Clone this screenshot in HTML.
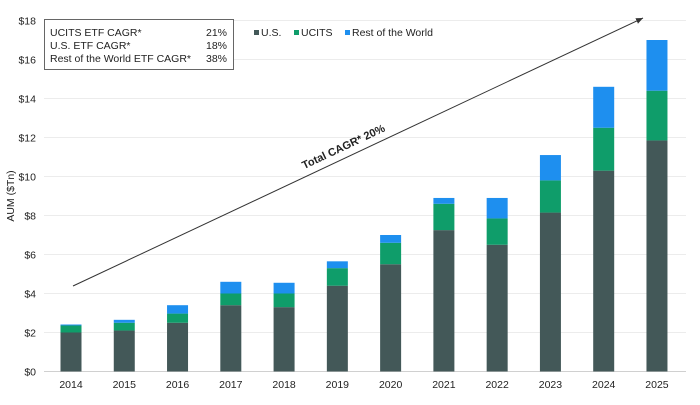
<!DOCTYPE html>
<html><head><meta charset="utf-8"><style>
body{margin:0;background:#fff;}
svg text{font-family:"Liberation Sans",Arial,sans-serif;}
</style></head><body>
<svg id="chart" width="700" height="400">
<defs><marker id="ah" markerWidth="8" markerHeight="8" refX="7" refY="4" orient="auto"><path d="M0,1 L7,4 L0,7 z" fill="#333"/></marker></defs>
<g id="grid"></g><g id="bars"></g><g id="axes"></g>
<line x1="73" y1="286" x2="643" y2="18" stroke="#333" stroke-width="1" marker-end="url(#ah)"/>
<text x="345" y="150" font-size="11" font-weight="bold" fill="#222" text-anchor="middle" transform="rotate(-25.2 345 150)">Total CAGR* 20%</text>
<g>
<rect x="44.5" y="19.5" width="189" height="50" fill="#fff" stroke="#666"/>
<text x="50" y="36" font-size="10.5" fill="#222">UCITS ETF CAGR*</text><text x="227" y="36" font-size="10.5" fill="#222" text-anchor="end">21%</text>
<text x="50" y="49" font-size="10.5" fill="#222">U.S. ETF CAGR*</text><text x="227" y="49" font-size="10.5" fill="#222" text-anchor="end">18%</text>
<text x="50" y="62" font-size="10.5" fill="#222">Rest of the World ETF CAGR*</text><text x="227" y="62" font-size="10.5" fill="#222" text-anchor="end">38%</text>
</g>
<g>
<rect x="254" y="30" width="5" height="5" fill="#435858"/><text x="261" y="36" font-size="10.5" fill="#222">U.S.</text>
<rect x="294" y="30" width="5" height="5" fill="#0f9d6a"/><text x="301" y="36" font-size="10.5" fill="#222">UCITS</text>
<rect x="345" y="30" width="5" height="5" fill="#1e8fef"/><text x="352" y="36" font-size="10.5" fill="#222">Rest of the World</text>
</g>
<text x="14" y="196" font-size="10.5" fill="#222" text-anchor="middle" transform="rotate(-90 14 196)">AUM ($Tn)</text>
</svg>
<script>
const years=['2014','2015','2016','2017','2018','2019','2020','2021','2022','2023','2024','2025'];
const us=[2.0,2.1,2.5,3.4,3.3,4.4,5.5,7.25,6.5,8.15,10.3,11.85];
const ucits=[0.36,0.4,0.47,0.6,0.7,0.9,1.1,1.35,1.35,1.65,2.2,2.55];
const row=[0.05,0.15,0.43,0.6,0.55,0.35,0.4,0.3,1.05,1.3,2.1,2.6];
const yTicks=[0,2,4,6,8,10,12,14,16,18];
const colors=['#435858','#0f9d6a','#1e8fef'];
const NS='http://www.w3.org/2000/svg';
const y=v=>371.5-v*19.5;
const x=i=>71+i*53.27;
const bw=21;
function mk(t,a,p){const e=document.createElementNS(NS,t);for(const k in a)e.setAttribute(k,a[k]);p.appendChild(e);return e;}
const G=document.getElementById('grid'),B=document.getElementById('bars'),A=document.getElementById('axes');
yTicks.forEach(v=>{
 const l=mk('line',{x1:44,x2:686,y1:y(v),y2:y(v),stroke:v===0?'#d0d0d0':'#ececec','stroke-width':1},G);
 
 
 const t=mk('text',{x:36,y:y(v)+4,'font-size':10.5,fill:'#222','text-anchor':'end'},A);
 t.textContent='$'+v;
 
 
});
years.forEach((yr,i)=>{
 let base=0;
 [us,ucits,row].forEach((s,k)=>{
  const v=s[i];
  const r=mk('rect',{x:x(i)-bw/2,y:y(base+v),width:bw,height:v*19.5,fill:colors[k]},B);
  
  
  base+=v;
 });
 const t=mk('text',{x:x(i),y:388,'font-size':10.5,fill:'#222','text-anchor':'middle'},A);
 t.textContent=yr;
 
 
});
</script>
</body></html>
